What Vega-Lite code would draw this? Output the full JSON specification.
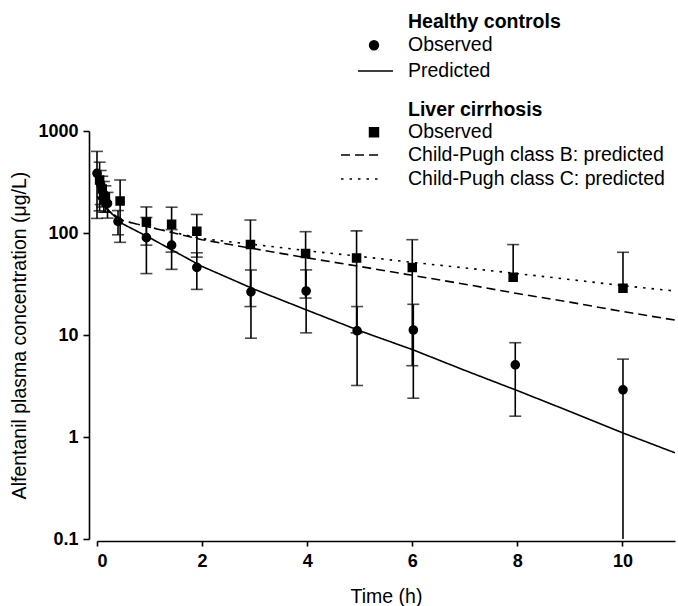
{
  "$schema": "https://vega.github.io/schema/vega-lite/v6.json",
  "width": 578,
  "height": 408,
  "autosize": {"type": "none"},
  "padding": {"left": 97, "top": 131, "right": 3, "bottom": 67},
  "background": "white",
  "config": {
    "view": {"stroke": null},
    "font": "Liberation Sans",
    "axis": {
      "grid": false,
      "domainColor": "black",
      "domainWidth": 1.6,
      "tickColor": "black",
      "tickWidth": 1.6,
      "labelColor": "black",
      "labelFont": "Liberation Sans",
      "labelFontSize": 18,
      "labelFontWeight": "bold",
      "titleColor": "black",
      "titleFont": "Liberation Sans",
      "titleFontSize": 19.5,
      "titleFontWeight": "normal"
    },
    "legend": {
      "labelFont": "Liberation Sans",
      "labelFontSize": 19.5,
      "labelColor": "black",
      "labelLimit": 0,
      "titleFont": "Liberation Sans",
      "titleFontSize": 19.5,
      "titleFontWeight": "bold",
      "titleColor": "black",
      "titleLimit": 0,
      "symbolStrokeWidth": 1.5
    }
  },
  "datasets": {
    "obs": [
      {"group": "H", "kind": "Observed", "t": 0.0, "v": 385, "lo": 139, "hi": 631},
      {"group": "H", "kind": "Observed", "t": 0.07, "v": 300, "lo": 190, "hi": 410},
      {"group": "H", "kind": "Observed", "t": 0.13, "v": 240, "lo": 160, "hi": 320},
      {"group": "H", "kind": "Observed", "t": 0.2, "v": 195, "lo": 140, "hi": 250},
      {"group": "H", "kind": "Observed", "t": 0.4, "v": 130, "lo": 96, "hi": 166},
      {"group": "H", "kind": "Observed", "t": 0.94, "v": 90, "lo": 40, "hi": 142},
      {"group": "H", "kind": "Observed", "t": 1.42, "v": 76, "lo": 44, "hi": 108},
      {"group": "H", "kind": "Observed", "t": 1.9, "v": 46, "lo": 28, "hi": 64},
      {"group": "H", "kind": "Observed", "t": 2.93, "v": 26.5, "lo": 9.3, "hi": 43.4},
      {"group": "H", "kind": "Observed", "t": 3.98, "v": 27, "lo": 10.5, "hi": 43.5},
      {"group": "H", "kind": "Observed", "t": 4.95, "v": 11, "lo": 3.2, "hi": 19},
      {"group": "H", "kind": "Observed", "t": 6.02, "v": 11.2, "lo": 2.4, "hi": 20},
      {"group": "H", "kind": "Observed", "t": 7.96, "v": 5.1, "lo": 1.6, "hi": 8.4},
      {"group": "H", "kind": "Observed", "t": 10.01, "v": 2.9, "lo": 0.1, "hi": 5.8},
      {"group": "L", "kind": "Observed", "t": 0.05, "v": 330, "lo": 165, "hi": 495},
      {"group": "L", "kind": "Observed", "t": 0.1, "v": 270, "lo": 180, "hi": 360},
      {"group": "L", "kind": "Observed", "t": 0.16, "v": 225, "lo": 160, "hi": 290},
      {"group": "L", "kind": "Observed", "t": 0.44, "v": 206, "lo": 81, "hi": 331},
      {"group": "L", "kind": "Observed", "t": 0.94, "v": 128, "lo": 76, "hi": 180},
      {"group": "L", "kind": "Observed", "t": 1.42, "v": 122, "lo": 65, "hi": 179},
      {"group": "L", "kind": "Observed", "t": 1.9, "v": 104, "lo": 58, "hi": 152},
      {"group": "L", "kind": "Observed", "t": 2.92, "v": 77, "lo": 19, "hi": 134},
      {"group": "L", "kind": "Observed", "t": 3.97, "v": 63, "lo": 23, "hi": 103},
      {"group": "L", "kind": "Observed", "t": 4.94, "v": 57, "lo": 10.5, "hi": 105},
      {"group": "L", "kind": "Observed", "t": 6.0, "v": 46, "lo": 5, "hi": 86},
      {"group": "L", "kind": "Observed", "t": 7.92, "v": 36.8, "lo": null, "hi": 77},
      {"group": "L", "kind": "Observed", "t": 10.01, "v": 28.7, "lo": null, "hi": 64.7}
    ],
    "pred": [
      {"group": "H", "series": "Predicted", "t": 0, "c": 230},
      {"group": "H", "series": "Predicted", "t": 0.1, "c": 195},
      {"group": "H", "series": "Predicted", "t": 0.25, "c": 160},
      {"group": "H", "series": "Predicted", "t": 0.5, "c": 122},
      {"group": "H", "series": "Predicted", "t": 1, "c": 90},
      {"group": "H", "series": "Predicted", "t": 1.5, "c": 65},
      {"group": "H", "series": "Predicted", "t": 2, "c": 47},
      {"group": "H", "series": "Predicted", "t": 3, "c": 28},
      {"group": "H", "series": "Predicted", "t": 4, "c": 17.5},
      {"group": "H", "series": "Predicted", "t": 5, "c": 11},
      {"group": "H", "series": "Predicted", "t": 6, "c": 7.2},
      {"group": "H", "series": "Predicted", "t": 7, "c": 4.5},
      {"group": "H", "series": "Predicted", "t": 8, "c": 2.85},
      {"group": "H", "series": "Predicted", "t": 9, "c": 1.78},
      {"group": "H", "series": "Predicted", "t": 10, "c": 1.1},
      {"group": "H", "series": "Predicted", "t": 11, "c": 0.7},
      {"group": "B", "series": "Child-Pugh class B: predicted", "t": 0, "c": 230},
      {"group": "B", "series": "Child-Pugh class B: predicted", "t": 0.1, "c": 195},
      {"group": "B", "series": "Child-Pugh class B: predicted", "t": 0.25, "c": 160},
      {"group": "B", "series": "Child-Pugh class B: predicted", "t": 0.5, "c": 132},
      {"group": "B", "series": "Child-Pugh class B: predicted", "t": 1, "c": 114},
      {"group": "B", "series": "Child-Pugh class B: predicted", "t": 2, "c": 86},
      {"group": "B", "series": "Child-Pugh class B: predicted", "t": 3, "c": 70},
      {"group": "B", "series": "Child-Pugh class B: predicted", "t": 4, "c": 57},
      {"group": "B", "series": "Child-Pugh class B: predicted", "t": 5, "c": 47},
      {"group": "B", "series": "Child-Pugh class B: predicted", "t": 6, "c": 38.5},
      {"group": "B", "series": "Child-Pugh class B: predicted", "t": 7, "c": 31.5},
      {"group": "B", "series": "Child-Pugh class B: predicted", "t": 8, "c": 25.5},
      {"group": "B", "series": "Child-Pugh class B: predicted", "t": 9, "c": 21},
      {"group": "B", "series": "Child-Pugh class B: predicted", "t": 10, "c": 17},
      {"group": "B", "series": "Child-Pugh class B: predicted", "t": 11, "c": 14},
      {"group": "C", "series": "Child-Pugh class C: predicted", "t": 0, "c": 230},
      {"group": "C", "series": "Child-Pugh class C: predicted", "t": 0.1, "c": 195},
      {"group": "C", "series": "Child-Pugh class C: predicted", "t": 0.25, "c": 160},
      {"group": "C", "series": "Child-Pugh class C: predicted", "t": 0.5, "c": 132},
      {"group": "C", "series": "Child-Pugh class C: predicted", "t": 1, "c": 114},
      {"group": "C", "series": "Child-Pugh class C: predicted", "t": 2, "c": 88},
      {"group": "C", "series": "Child-Pugh class C: predicted", "t": 3, "c": 77},
      {"group": "C", "series": "Child-Pugh class C: predicted", "t": 4, "c": 67},
      {"group": "C", "series": "Child-Pugh class C: predicted", "t": 5, "c": 59},
      {"group": "C", "series": "Child-Pugh class C: predicted", "t": 6, "c": 51.5},
      {"group": "C", "series": "Child-Pugh class C: predicted", "t": 7, "c": 45.5},
      {"group": "C", "series": "Child-Pugh class C: predicted", "t": 8, "c": 40},
      {"group": "C", "series": "Child-Pugh class C: predicted", "t": 9, "c": 35},
      {"group": "C", "series": "Child-Pugh class C: predicted", "t": 10, "c": 30.5},
      {"group": "C", "series": "Child-Pugh class C: predicted", "t": 11, "c": 27}
    ]
  },
  "layer": [
    {
      "data": {"name": "pred"},
      "transform": [{"filter": "datum.group === 'H'"}],
      "mark": {"type": "line", "color": "black", "strokeWidth": 1.6, "clip": true},
      "encoding": {
        "x": {
          "field": "t", "type": "quantitative",
          "scale": {"domain": [0, 11], "nice": false, "zero": false},
          "axis": {"values": [0, 2, 4, 6, 8, 10], "format": "d", "title": "Time (h)", "offset": 2, "tickSize": 5, "labelPadding": 6, "titlePadding": 17}
        },
        "y": {
          "field": "c", "type": "quantitative",
          "scale": {"type": "log", "domain": [0.1, 1000], "nice": false},
          "axis": {"values": [0.1, 1, 10, 100, 1000], "format": "~g", "title": "Alfentanil plasma concentration (μg/L)", "offset": 8, "tickSize": 6, "labelPadding": 5, "titlePadding": 8}
        },
        "strokeDash": {
          "field": "series", "type": "nominal",
          "scale": {"domain": ["Predicted"], "range": [[1, 0]]},
          "legend": {
            "title": null,
            "orient": "none",
            "legendX": 260,
            "legendY": -78.5,
            "symbolSize": 1225,
            "symbolStrokeWidth": 1.5,
            "symbolStrokeColor": "black",
            "labelOffset": 14
          }
        }
      }
    },
    {
      "data": {"name": "pred"},
      "transform": [{"filter": "datum.group === 'B'"}],
      "mark": {"type": "line", "color": "black", "strokeWidth": 1.6, "clip": true},
      "encoding": {
        "x": {"field": "t", "type": "quantitative"},
        "y": {"field": "c", "type": "quantitative"},
        "strokeDash": {
          "field": "series", "type": "nominal",
          "scale": {"domain": ["Child-Pugh class B: predicted"], "range": [[9, 5]]},
          "legend": {
            "title": null,
            "orient": "none",
            "legendX": 243,
            "legendY": 3.5,
            "symbolSize": 1521,
            "symbolStrokeWidth": 1.5,
            "symbolStrokeColor": "black",
            "labelOffset": 27
          }
        }
      }
    },
    {
      "data": {"name": "pred"},
      "transform": [{"filter": "datum.group === 'C'"}],
      "mark": {"type": "line", "color": "black", "strokeWidth": 1.6, "clip": true},
      "encoding": {
        "x": {"field": "t", "type": "quantitative"},
        "y": {"field": "c", "type": "quantitative"},
        "strokeDash": {
          "field": "series", "type": "nominal",
          "scale": {"domain": ["Child-Pugh class C: predicted"], "range": [[2.5, 6]]},
          "legend": {
            "title": null,
            "orient": "none",
            "legendX": 243,
            "legendY": 27.5,
            "symbolSize": 1521,
            "symbolStrokeWidth": 1.5,
            "symbolStrokeColor": "black",
            "labelOffset": 27
          }
        }
      }
    },
    {
      "data": {"name": "obs"},
      "transform": [{"filter": "isValid(datum.lo)"}],
      "mark": {"type": "rule", "color": "black", "strokeWidth": 1.6},
      "encoding": {
        "x": {"field": "t", "type": "quantitative"},
        "y": {"field": "lo", "type": "quantitative"},
        "y2": {"field": "hi"}
      }
    },
    {
      "data": {"name": "obs"},
      "transform": [{"filter": "!isValid(datum.lo)"}],
      "mark": {"type": "rule", "color": "black", "strokeWidth": 1.6},
      "encoding": {
        "x": {"field": "t", "type": "quantitative"},
        "y": {"field": "v", "type": "quantitative"},
        "y2": {"field": "hi"}
      }
    },
    {
      "data": {"name": "obs"},
      "mark": {"type": "tick", "orient": "horizontal", "color": "black", "size": 12, "thickness": 1.6},
      "encoding": {
        "x": {"field": "t", "type": "quantitative"},
        "y": {"field": "hi", "type": "quantitative"}
      }
    },
    {
      "data": {"name": "obs"},
      "transform": [{"filter": "isValid(datum.lo) && datum.lo > 0.1"}],
      "mark": {"type": "tick", "orient": "horizontal", "color": "black", "size": 12, "thickness": 1.6},
      "encoding": {
        "x": {"field": "t", "type": "quantitative"},
        "y": {"field": "lo", "type": "quantitative"}
      }
    },
    {
      "data": {"name": "obs"},
      "transform": [{"filter": "datum.group === 'H'"}],
      "mark": {"type": "point", "filled": true, "fill": "black", "stroke": "black", "strokeWidth": 1.5, "size": 66, "opacity": 1},
      "encoding": {
        "x": {"field": "t", "type": "quantitative"},
        "y": {"field": "v", "type": "quantitative"},
        "shape": {
          "field": "kind", "type": "nominal",
          "scale": {"domain": ["Observed"], "range": ["circle"]},
          "legend": {
            "title": "Healthy controls",
            "orient": "none",
            "legendX": 311,
            "legendY": -118,
            "symbolSize": 80,
            "symbolOffset": -43.75,
            "labelOffset": 24.25,
            "titlePadding": 3
          }
        }
      }
    },
    {
      "data": {"name": "obs"},
      "transform": [{"filter": "datum.group === 'L'"}],
      "mark": {"type": "point", "filled": true, "fill": "black", "stroke": "black", "strokeWidth": 1.5, "size": 64, "opacity": 1},
      "encoding": {
        "x": {"field": "t", "type": "quantitative"},
        "y": {"field": "v", "type": "quantitative"},
        "shape": {
          "field": "kind", "type": "nominal",
          "scale": {"domain": ["Observed"], "range": ["square"]},
          "legend": {
            "title": "Liver cirrhosis",
            "orient": "none",
            "legendX": 311,
            "legendY": -30,
            "symbolSize": 80,
            "symbolOffset": -43.75,
            "labelOffset": 24.25,
            "titlePadding": 2
          }
        }
      }
    }
  ],
  "resolve": {
    "scale": {"shape": "independent", "strokeDash": "independent"},
    "legend": {"shape": "independent", "strokeDash": "independent"}
  }
}
